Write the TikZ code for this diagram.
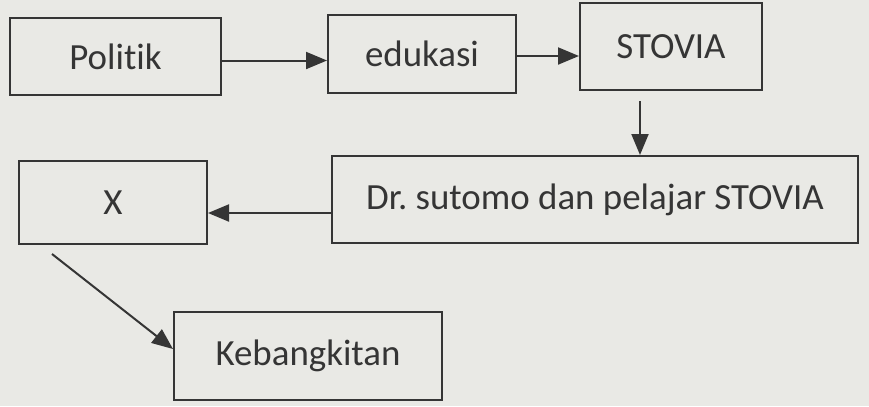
\documentclass[tikz,border=0pt]{standalone}
\usepackage{fontspec}
\setmainfont{Carlito}[Ligatures={NoCommon}]
\usepackage{xcolor}
\usetikzlibrary{arrows.meta}
\definecolor{pInk}{HTML}{353535}
\definecolor{pPaper}{HTML}{E9E9E5}
\frenchspacing

\begin{document}
\begin{tikzpicture}[x=0.02cm, y=-0.02cm]
	\pgfmathsetmacro{\u}{0.02}	%px in cm
	\tikzset{
		flowbox/.style={draw=pInk, line width=2*\u cm, inner sep=0pt, text=pInk,
			font=\fontsize{21}{25}\selectfont},
		arr/.style={draw=pInk, line width=2*\u cm, -{Triangle[length=21*\u cm, width=17*\u cm]}}
	};
	\fill[pPaper] (0,0) rectangle (869,406);
	\node[flowbox, minimum width={211*\u cm}, minimum height={77*\u cm}] (politik) at (115.5,56.5) {Politik};
	\node[flowbox, minimum width={188*\u cm}, minimum height={78*\u cm}] (edukasi) at (422,54) {edukasi};
	\node[flowbox, minimum width={182*\u cm}, minimum height={87*\u cm}] (stovia) at (671,46.5) {STOVIA};
	\node[flowbox, minimum width={526*\u cm}, minimum height={87*\u cm}] (dr) at (595,199.5) {Dr. sutomo dan pelajar STOVIA};
	\node[flowbox, minimum width={188*\u cm}, minimum height={83*\u cm}] (x) at (113,202.5) {X};
	\node[flowbox, minimum width={268*\u cm}, minimum height={88*\u cm}] (keb) at (308,356) {Kebangkitan};
	\coordinate (xfoot) at ([shift={(34,9)}]x.south west);
	\draw[arr] ([shift={(0,4)}]politik.east) -- ([shift={(0,4)}]politik.east -| edukasi.west);
	\draw[arr] ([shift={(0,2)}]edukasi.east) -- ([shift={(0,2)}]edukasi.east -| stovia.west);
	\draw[arr] ([shift={(-31,10)}]stovia.south) -- ([shift={(-31,0)}]stovia.south |- dr.north);
	\draw[arr] ([shift={(0,13.5)}]dr.west) -- ([shift={(0,13.5)}]dr.west -| x.east);
	\draw[arr] (xfoot) -- ([shift={(0,-7)}]keb.west);
\end{tikzpicture}
\end{document}
